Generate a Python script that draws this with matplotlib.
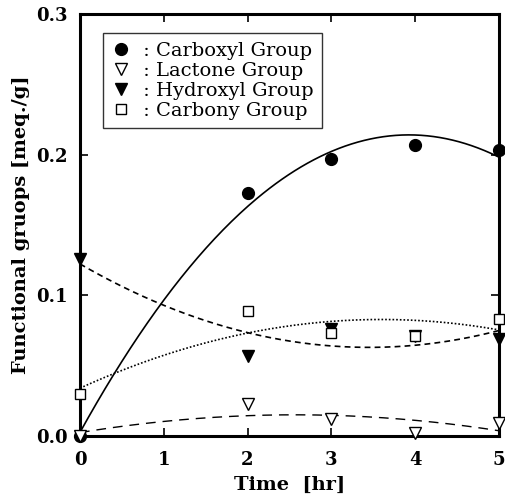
import matplotlib
matplotlib.use("Agg")
import matplotlib.pyplot as plt
import numpy as np

# reaction time [hr]
time_hr = [0, 2, 3, 4, 5]

# functional groups [meq./g]
carboxyl = [0.000, 0.173, 0.197, 0.207, 0.203]
lactone = [0.000, 0.023, 0.012, 0.002, 0.009]
hydroxyl = [0.126, 0.057, 0.076, 0.071, 0.069]
carbony = [0.030, 0.089, 0.073, 0.071, 0.083]

labels = [" : Carboxyl Group", " : Lactone Group", " : Hydroxyl Group", " : Carbony Group"]

plt.rcParams['font.family'] = 'DejaVu Serif'

fig = plt.figure(figsize=(5.06, 5.01), dpi=100)
ax = fig.add_axes([0.158, 0.130, 0.828, 0.842])

series = [
    (carboxyl, dict(marker='o', mfc='black', mec='black', ms=8.5), '-', 1.2),
    (lactone, dict(marker='v', mfc='white', mec='black', ms=8.5, mew=1.0), (0, (7, 5)), 1.0),
    (hydroxyl, dict(marker='v', mfc='black', mec='black', ms=8.5), (0, (3.5, 2.5)), 1.2),
    (carbony, dict(marker='s', mfc='white', mec='black', ms=7.5, mew=1.0), (0, (1, 1.2)), 1.2),
]

x = np.array(time_hr, dtype=float)
xs = np.linspace(0, 5, 200)
handles = []
for (vals, mk, ls, lw), lab in zip(series, labels):
    # second order fit through each series
    coef = np.polyfit(x, vals, 2)
    ax.plot(xs, np.polyval(coef, xs), color='black', linestyle=ls, linewidth=lw)
    h, = ax.plot(x, vals, linestyle='none', clip_on=False, zorder=5, label=lab, **mk)
    handles.append(h)

ax.set_xlim(0, 5)
ax.set_ylim(0, 0.3)
ax.set_xticks([0, 1, 2, 3, 4, 5])
ax.set_yticks([0.0, 0.1, 0.2, 0.3])
ax.set_yticklabels(['0.0', '0.1', '0.2', '0.3'])
ax.tick_params(direction='in', length=6, width=1.2, top=True, right=True,
               labelsize=13)
ax.tick_params(axis='x', pad=11)
ax.tick_params(axis='y', pad=9)
for lbl in ax.get_xticklabels() + ax.get_yticklabels():
    lbl.set_fontweight('bold')
for sp in ax.spines.values():
    sp.set_linewidth(2.2)

ax.set_xlabel('Time  [hr]', fontsize=14, fontweight='bold', labelpad=5)
ax.set_ylabel('Functional gruops [meq./g]', fontsize=14, fontweight='bold', labelpad=4)

leg = ax.legend(handles=handles, loc='upper left', bbox_to_anchor=(0.055, 0.955),
                fontsize=14, frameon=True, fancybox=False, edgecolor='black',
                handlelength=1.0, handletextpad=0.3, labelspacing=0.1,
                borderpad=0.45, borderaxespad=0)
leg.get_frame().set_linewidth(1.0)

fig.savefig('out.png', dpi=100)
